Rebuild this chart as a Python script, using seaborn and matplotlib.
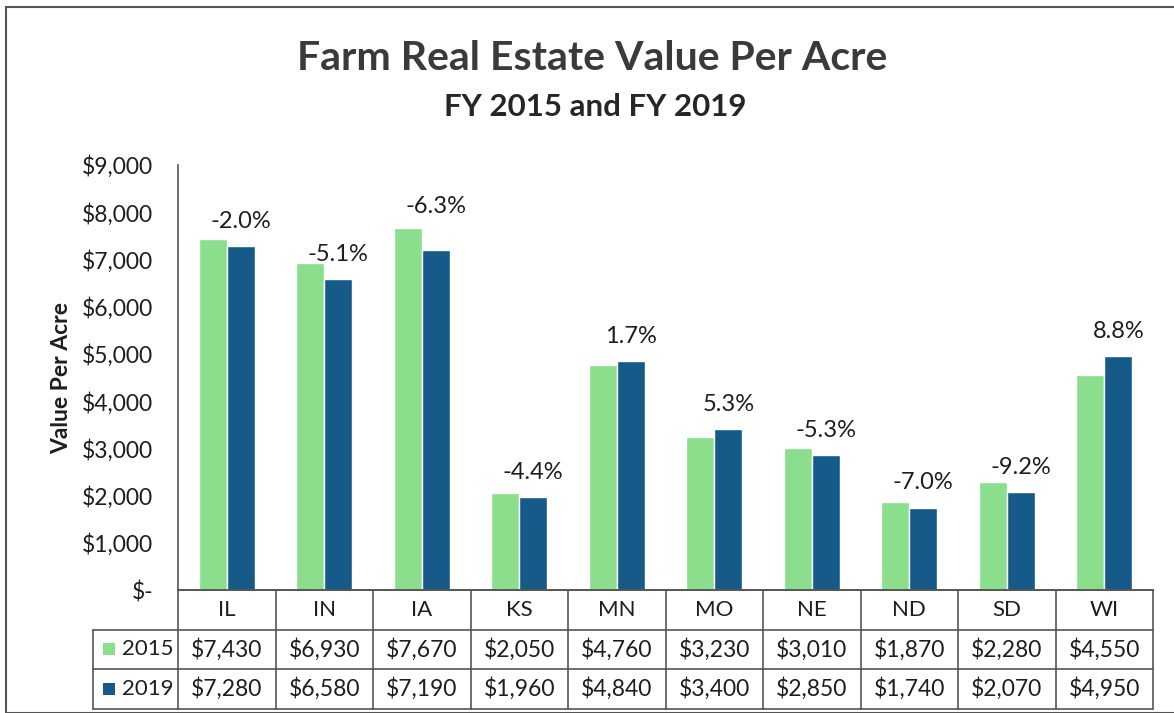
import pandas as pd
import numpy as np
import matplotlib.pyplot as plt
import matplotlib.transforms as mtransforms
import seaborn as sns
from matplotlib.patches import Rectangle
from matplotlib.ticker import FuncFormatter

states = ['IL', 'IN', 'IA', 'KS', 'MN', 'MO', 'NE', 'ND', 'SD', 'WI']
years = ['2015', '2019']
value_2015 = [7430, 6930, 7670, 2050, 4760, 3230, 3010, 1870, 2280, 4550]
value_2019 = [7280, 6580, 7190, 1960, 4840, 3400, 2850, 1740, 2070, 4950]
pct_change = ['-2.0%', '-5.1%', '-6.3%', '-4.4%', '1.7%', '5.3%', '-5.3%', '-7.0%', '-9.2%', '8.8%']
y_ticks = [0, 1000, 2000, 3000, 4000, 5000, 6000, 7000, 8000, 9000]

green = '#8ade8c'
blue = '#165a8a'
txt = '#1e1e1e'
line_c = '#555555'

sns.set_style('white')
plt.rcParams['font.family'] = ['Lato', 'DejaVu Sans']

df = pd.DataFrame({'state': states * 2,
                   'year': [years[0]] * len(states) + [years[1]] * len(states),
                   'value': value_2015 + value_2019})

W, H = 1174, 713
fig = plt.figure(figsize=(W / 100, H / 100), dpi=100)
ax_l, ax_r, ax_t, ax_b = 178, 1153, 165, 590
ax = fig.add_axes([ax_l / W, 1 - ax_b / H, (ax_r - ax_l) / W, (ax_b - ax_t) / H])

sns.barplot(data=df, x='state', y='value', hue='year', palette=[green, blue],
            width=0.575, saturation=1, errorbar=None, legend=False, ax=ax)

ax.set_xlim(-0.5, len(states) - 0.5)
ax.set_ylim(0, 9000)
ax.set_yticks(y_ticks)
ax.yaxis.set_major_formatter(FuncFormatter(lambda v, p: '$-' if v == 0 else '${:,.0f}'.format(v)))
ax.tick_params(axis='y', length=0, pad=18, labelsize=16.5, labelcolor=txt)
ax.set_xticks([])
ax.set_xlabel('')
ax.set_ylabel('Value Per Acre', fontsize=16.5, fontweight='bold', color=txt, labelpad=7)
for s in ['top', 'right']:
    ax.spines[s].set_visible(False)
for s in ['left', 'bottom']:
    ax.spines[s].set_color(line_c)
    ax.spines[s].set_linewidth(1.2)

# percent change labels over the 2019 bars (IA one nudged up clear of the 2015 bar)
px = 9000 / (ax_b - ax_t)
lift = {'IA': 19}
for st, b, lab in zip(states, ax.containers[1], pct_change):
    y_lab = b.get_height() + (25 + lift.get(st, 0)) * px
    ax.text(b.get_x() + b.get_width() / 2, y_lab, lab, ha='center', va='center',
            fontsize=17, color=txt)

# data table under the chart (x in category units, y in axes fraction)
tr = mtransforms.blended_transform_factory(ax.transData, ax.transAxes)
col_px = (ax_r - ax_l) / len(states)
row_h = 39.5 / (ax_b - ax_t)
x0 = -0.5
x_lab = x0 - (ax_l - 93) / col_px
x1 = len(states) - 0.5
lk = dict(color=line_c, linewidth=1.2, transform=tr, clip_on=False)
ax.plot([x0, x1], [0, 0], **lk)
for r in range(1, 4):
    ax.plot([x_lab, x1], [-r * row_h, -r * row_h], **lk)
for k in range(len(states) + 1):
    ax.plot([x0 + k, x0 + k], [0, -3 * row_h], **lk)
ax.plot([x_lab, x_lab], [-row_h, -3 * row_h], **lk)

for j, st in enumerate(states):
    ax.text(j, -0.5 * row_h, st, ha='center', va='center', fontsize=16, color=txt, transform=tr)
rows = [value_2015, value_2019]
for i, yr in enumerate(years):
    yc = -(i + 1.5) * row_h
    ax.text(x0 - 0.05, yc, yr, ha='right', va='center', fontsize=16, color=txt, transform=tr)
    for j, v in enumerate(rows[i]):
        ax.text(j, yc, '${:,}'.format(v), ha='center', va='center', fontsize=16.5,
                color=txt, transform=tr)

# legend keys in the row labels
for k, col in enumerate([green, blue]):
    yk = 649 + 40 * k
    ax.add_patch(Rectangle(((103 - ax_l) / (ax_r - ax_l), (ax_b - yk - 6) / (ax_b - ax_t)),
                           12 / (ax_r - ax_l), 12 / (ax_b - ax_t), transform=ax.transAxes,
                           facecolor=col, edgecolor='none', clip_on=False))

fig.text(592 / W, 1 - 59 / H, 'Farm Real Estate Value Per Acre', ha='center', va='center',
         fontsize=29.5, fontweight='bold', color='#3a3a3a')
fig.text(595 / W, 1 - 107 / H, 'FY 2015 and FY 2019', ha='center', va='center',
         fontsize=22.5, fontweight='bold', color='#262626')

fig.patches.append(Rectangle((6 / W, 0), 1.1, 1 - 7 / H, transform=fig.transFigure,
                             fill=False, edgecolor=line_c, linewidth=1.5))

plt.savefig('out.png', dpi=100)
